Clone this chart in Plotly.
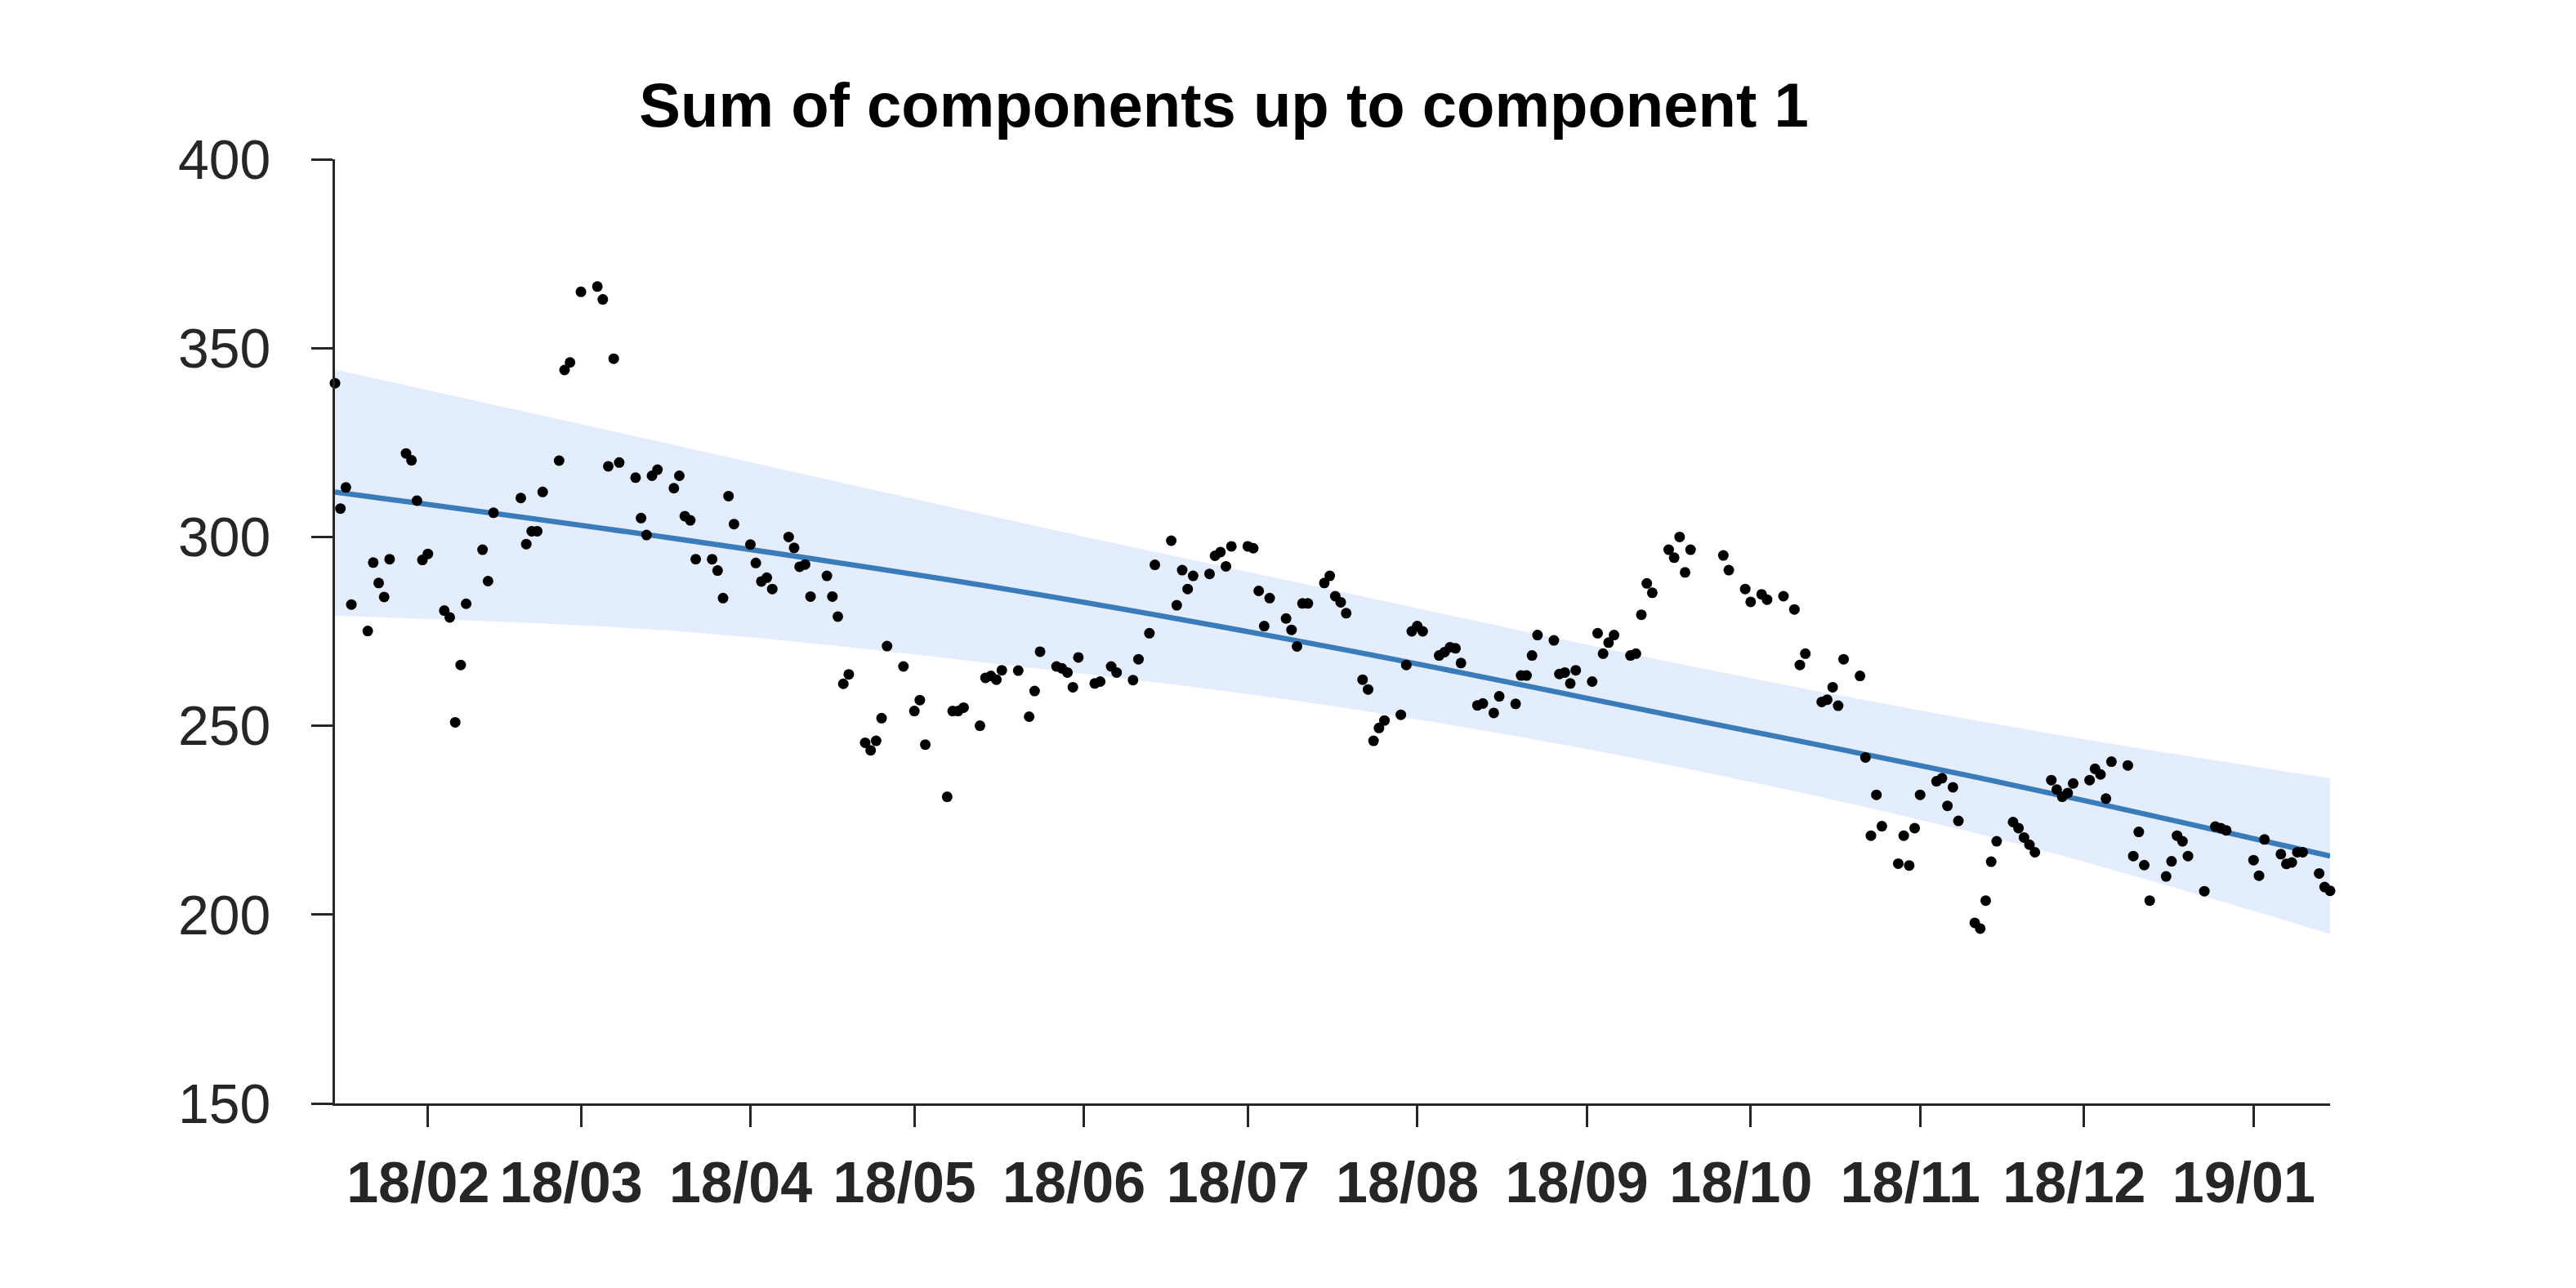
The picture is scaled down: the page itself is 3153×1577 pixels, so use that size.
import plotly.graph_objects as go

# ---------------- data ----------------
obs_dates = [
    "2018-01-15", "2018-01-16", "2018-01-17", "2018-01-18", "2018-01-21", "2018-01-22", "2018-01-23",
    "2018-01-24", "2018-01-25", "2018-01-28", "2018-01-29", "2018-01-30", "2018-01-31",
    "2018-02-01", "2018-02-04", "2018-02-05", "2018-02-06", "2018-02-07", "2018-02-08", "2018-02-11",
    "2018-02-12", "2018-02-13", "2018-02-18", "2018-02-19", "2018-02-20", "2018-02-21", "2018-02-22",
    "2018-02-25", "2018-02-26", "2018-02-27",
    "2018-03-01", "2018-03-04", "2018-03-05", "2018-03-06", "2018-03-07", "2018-03-08", "2018-03-11",
    "2018-03-12", "2018-03-13", "2018-03-14", "2018-03-15", "2018-03-18", "2018-03-19", "2018-03-20",
    "2018-03-21", "2018-03-22", "2018-03-25", "2018-03-26", "2018-03-27", "2018-03-28", "2018-03-29",
    "2018-04-01", "2018-04-02", "2018-04-03", "2018-04-04", "2018-04-05", "2018-04-08", "2018-04-09",
    "2018-04-10", "2018-04-11", "2018-04-12", "2018-04-15", "2018-04-16", "2018-04-17", "2018-04-18",
    "2018-04-19", "2018-04-22", "2018-04-23", "2018-04-24", "2018-04-25", "2018-04-26", "2018-04-29",
    "2018-05-01", "2018-05-02", "2018-05-03", "2018-05-07", "2018-05-08", "2018-05-09", "2018-05-10",
    "2018-05-13", "2018-05-14", "2018-05-15", "2018-05-16", "2018-05-17", "2018-05-20", "2018-05-22",
    "2018-05-23", "2018-05-24", "2018-05-27", "2018-05-28", "2018-05-29", "2018-05-30", "2018-05-31",
    "2018-06-03", "2018-06-04", "2018-06-06", "2018-06-07", "2018-06-10", "2018-06-11", "2018-06-13",
    "2018-06-14", "2018-06-17", "2018-06-18", "2018-06-19", "2018-06-20", "2018-06-21", "2018-06-24",
    "2018-06-25", "2018-06-26", "2018-06-27", "2018-06-28",
    "2018-07-01", "2018-07-02", "2018-07-03", "2018-07-04", "2018-07-05", "2018-07-08", "2018-07-09",
    "2018-07-10", "2018-07-11", "2018-07-12", "2018-07-15", "2018-07-16", "2018-07-17", "2018-07-18",
    "2018-07-19", "2018-07-22", "2018-07-23", "2018-07-24", "2018-07-25", "2018-07-26", "2018-07-29",
    "2018-07-30", "2018-07-31",
    "2018-08-01", "2018-08-02", "2018-08-05", "2018-08-06", "2018-08-07", "2018-08-08", "2018-08-09",
    "2018-08-12", "2018-08-13", "2018-08-15", "2018-08-16", "2018-08-19", "2018-08-20", "2018-08-21",
    "2018-08-22", "2018-08-23", "2018-08-26", "2018-08-27", "2018-08-28", "2018-08-29", "2018-08-30",
    "2018-09-02", "2018-09-03", "2018-09-04", "2018-09-05", "2018-09-06", "2018-09-09", "2018-09-10",
    "2018-09-11", "2018-09-12", "2018-09-13", "2018-09-16", "2018-09-17", "2018-09-18", "2018-09-19",
    "2018-09-20", "2018-09-26", "2018-09-27", "2018-09-30",
    "2018-10-01", "2018-10-03", "2018-10-04", "2018-10-07", "2018-10-09", "2018-10-10", "2018-10-11",
    "2018-10-14", "2018-10-15", "2018-10-16", "2018-10-17", "2018-10-18", "2018-10-21", "2018-10-22",
    "2018-10-23", "2018-10-24", "2018-10-25", "2018-10-28", "2018-10-29", "2018-10-30", "2018-10-31",
    "2018-11-01", "2018-11-04", "2018-11-05", "2018-11-06", "2018-11-07", "2018-11-08", "2018-11-11",
    "2018-11-12", "2018-11-13", "2018-11-14", "2018-11-15", "2018-11-18", "2018-11-19", "2018-11-20",
    "2018-11-21", "2018-11-22", "2018-11-25", "2018-11-26", "2018-11-27", "2018-11-28", "2018-11-29",
    "2018-12-02", "2018-12-03", "2018-12-04", "2018-12-05", "2018-12-06", "2018-12-09", "2018-12-10",
    "2018-12-11", "2018-12-12", "2018-12-13", "2018-12-16", "2018-12-17", "2018-12-18", "2018-12-19",
    "2018-12-20", "2018-12-23", "2018-12-25", "2018-12-26", "2018-12-27",
    "2019-01-01", "2019-01-02", "2019-01-03", "2019-01-06", "2019-01-07", "2019-01-08", "2019-01-09",
    "2019-01-10", "2019-01-13", "2019-01-14", "2019-01-15",
]
obs_values = [
    340.7, 307.5, 313.1, 282.1, 275.1, 293.2, 287.8,
    284.1, 294.1, 322.1, 320.3, 309.6, 293.9,
    295.5, 280.5, 278.7, 250.9, 266.1, 282.3, 296.6,
    288.3, 306.4, 310.3, 298.1, 301.5, 301.5, 311.9,
    320.2, 344.2, 346.2,
    364.9, 366.3, 362.9, 318.7, 347.2, 319.7, 315.7,
    305.0, 300.5, 316.2, 317.8, 312.9, 316.2, 305.5,
    304.4, 294.1, 294.1, 291.1, 283.8, 310.8, 303.4,
    298.0, 293.1, 288.2, 289.2, 286.2, 300.0, 297.1,
    292.1, 292.7, 284.2, 289.7, 284.2, 278.9, 261.1,
    263.6, 245.5, 243.5, 246.0, 252.0, 271.1, 265.7,
    253.9, 256.8, 245.0, 231.2, 253.9, 253.9, 254.8,
    250.0, 262.7, 263.2, 262.2, 264.7, 264.6, 252.4,
    259.2, 269.6, 265.7, 265.2, 264.1, 260.2, 268.1,
    261.2, 261.7, 265.7, 264.1, 262.1, 267.6, 274.5,
    292.6, 299.0, 281.9, 291.2, 286.2, 289.7, 290.2,
    295.0, 296.0, 292.2, 297.5,
    297.5, 297.0, 285.7, 276.4, 283.8, 278.4, 275.4,
    271.0, 282.4, 282.4, 287.8, 289.7, 284.3, 282.7,
    279.8, 262.2, 259.6, 246.0, 249.4, 251.4, 252.9,
    266.1, 275.0,
    276.4, 275.0, 268.6, 269.5, 270.8, 270.5, 266.6,
    255.4, 255.9, 253.4, 257.8, 255.8, 263.3, 263.3,
    268.6, 274.0, 272.6, 263.7, 264.1, 261.2, 264.7,
    261.7, 274.5, 269.1, 272.0, 274.0, 268.6, 269.1,
    279.4, 287.7, 285.2, 296.6, 294.5, 300.0, 290.6,
    296.6, 295.1, 291.2, 286.2,
    282.8, 284.8, 283.4, 284.3, 280.8, 266.1, 269.1,
    256.3, 256.9, 260.2, 255.3, 267.6, 263.2, 241.6,
    220.9, 231.7, 223.4, 213.5, 220.9, 213.0, 222.9,
    231.7, 235.3, 236.1, 228.8, 233.7, 224.8, 197.8,
    196.3, 203.7, 214.0, 219.4, 224.5, 222.9, 220.4,
    218.5, 216.5, 235.6, 233.1, 231.2, 232.2, 234.7,
    235.6, 238.6, 237.1, 230.7, 240.5, 239.5, 215.5,
    221.9, 213.1, 203.7, 210.1, 214.1, 220.9, 219.4,
    215.5, 206.2, 223.3, 222.9, 222.3,
    214.4, 210.3, 219.9, 216.0, 213.4, 213.8, 216.5,
    216.5, 210.9, 207.3, 206.3,
]

trend_dates = ["2018-01-15", "2018-03-17", "2018-05-16", "2018-07-17",
               "2018-09-17", "2018-11-17", "2019-01-15"]
trend_mean = [311.9, 299.8, 286.6, 270.6, 252.6, 234.6, 215.5]
trend_upper = [344.3, 324.7, 305.2, 285.8, 266.7, 249.9, 236.1]
trend_lower = [279.1, 275.2, 266.4, 255.1, 239.3, 219.4, 194.9]

title_text = "Sum of components up to component 1"
y_ticks = [150, 200, 250, 300, 350, 400]

# ---------------- figure ----------------
W, H = 3153, 1577
L, R, T, B = 410, 301, 195, 226
AXIS = "#262626"
FONT = "Liberation Sans, Arial, Helvetica, sans-serif"

fig = go.Figure()
fig.add_trace(go.Scatter(
    x=trend_dates, y=trend_lower, mode="lines",
    line=dict(width=0, shape="spline", color="rgba(0,0,0,0)"),
    hoverinfo="skip", showlegend=False))
fig.add_trace(go.Scatter(
    x=trend_dates, y=trend_upper, mode="lines",
    line=dict(width=0, shape="spline", color="rgba(0,0,0,0)"),
    fill="tonexty", fillcolor="rgb(228,237,253)",
    hoverinfo="skip", showlegend=False))
fig.add_trace(go.Scatter(
    x=trend_dates, y=trend_mean, mode="lines",
    line=dict(width=6.5, shape="spline", color="#3a7cb9"),
    showlegend=False))
fig.add_trace(go.Scatter(
    x=obs_dates, y=obs_values, mode="markers",
    marker=dict(size=13, color="black", line=dict(width=0)),
    showlegend=False, cliponaxis=False))

fig.update_layout(
    width=W, height=H, autosize=False,
    margin=dict(l=L, r=R, t=T, b=B, pad=0),
    paper_bgcolor="white", plot_bgcolor="white",
    font=dict(family=FONT, color=AXIS),
    showlegend=False,
    title=dict(text="<b>" + title_text + "</b>", x=1498 / W, xanchor="center",
               y=1 - 128 / H, yanchor="middle", xref="container", yref="container",
               font=dict(family=FONT, size=76, color="black")),
)
fig.update_xaxes(
    type="date", range=["2018-01-15", "2019-01-15"],
    tickformat="%y/%m", dtick="M1", tick0="2018-02-01",
    showgrid=False, zeroline=False,
    showline=True, linecolor=AXIS, linewidth=3,
    ticks="outside", ticklen=26, tickwidth=3, tickcolor=AXIS,
    tickfont=dict(family=FONT, size=70, color=AXIS, weight="bold"),
    ticklabelstandoff=8, ticklabelshift=-12,
)
fig.update_yaxes(
    range=[150, 400], tickvals=y_ticks,
    showgrid=False, zeroline=False,
    showline=True, linecolor=AXIS, linewidth=3,
    ticks="outside", ticklen=26, tickwidth=3, tickcolor=AXIS,
    tickfont=dict(family=FONT, size=68, color=AXIS),
    ticklabelstandoff=36,
)

fig.write_html("out.html")
